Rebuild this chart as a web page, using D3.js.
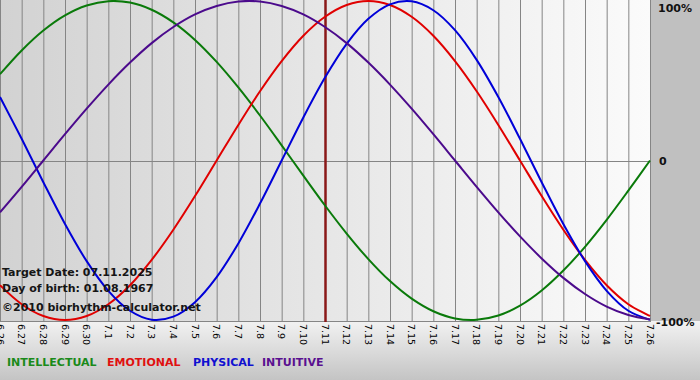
<!DOCTYPE html>
<html><head><meta charset="utf-8">
<script src="https://cdnjs.cloudflare.com/ajax/libs/d3/7.8.5/d3.min.js"></script>
<style>html,body{margin:0;padding:0;background:#c0c0c0;}svg{display:block;}</style>
</head><body><svg id="c" width="700" height="380"></svg>
<script>
const days = ["6.26","6.27","6.28","6.29","6.30","7.1","7.2","7.3","7.4","7.5","7.6","7.7","7.8","7.9","7.10","7.11","7.12","7.13","7.14","7.15","7.16","7.17","7.18","7.19","7.20","7.21","7.22","7.23","7.24","7.25","7.26"];
const targetDay = "7.11";
const intellectual = [0.541,0.690,0.815,0.910,0.972,0.999,0.990,0.945,0.866,0.756,0.618,0.458,0.282,0.095,-0.095,-0.282,-0.458,-0.618,-0.756,-0.866,-0.945,-0.990,-0.999,-0.972,-0.910,-0.815,-0.690,-0.541,-0.372,-0.189,0.000];
const emotional = [-0.782,-0.901,-0.975,-1.000,-0.975,-0.901,-0.782,-0.623,-0.434,-0.223,0.000,0.223,0.434,0.623,0.782,0.901,0.975,1.000,0.975,0.901,0.782,0.623,0.434,0.223,0.000,-0.223,-0.434,-0.623,-0.782,-0.901,-0.975];
const physical = [0.398,0.136,-0.136,-0.398,-0.631,-0.817,-0.942,-0.998,-0.979,-0.888,-0.731,-0.520,-0.270,0.000,0.270,0.520,0.731,0.888,0.979,0.998,0.942,0.817,0.631,0.398,0.136,-0.136,-0.398,-0.631,-0.817,-0.942,-0.998];
const intuitive = [-0.325,-0.165,0.000,0.165,0.325,0.476,0.614,0.736,0.837,0.916,0.969,0.997,0.997,0.969,0.916,0.837,0.736,0.614,0.476,0.325,0.165,0.000,-0.165,-0.325,-0.476,-0.614,-0.736,-0.837,-0.916,-0.969,-0.997];
const seriesNames = ["INTELLECTUAL","EMOTIONAL","PHYSICAL","INTUITIVE"];
const seriesColors = ["#0a7a0a","#e00000","#0000d8","#4b0a8c"];
const legendColors = ["#1a8a1a","#e01010","#1010d0","#5a1090"];
const yTicks = [1,0,-1];
const yTickLabels = ["100%","0","-100%"];
const infoLines = ["Target Date: 07.11.2025","Day of birth: 01.08.1967"];
const copyright = "\u00a92010 biorhythm-calculator.net";

const svg = d3.select("#c");
const W = 700, H = 380, PL = 0, PR = 650, PT = 1, PB = 320;
const defs = svg.append("defs");
const g1 = defs.append("linearGradient").attr("id","plotbg").attr("x1","0").attr("x2","1").attr("y1","0").attr("y2","0");
g1.append("stop").attr("offset","0").attr("stop-color","#d2d2d2");
g1.append("stop").attr("offset","1").attr("stop-color","#fbfbfb");
const g2 = defs.append("linearGradient").attr("id","botbg").attr("x1","0").attr("x2","0").attr("y1","0").attr("y2","1");
g2.append("stop").attr("offset","0").attr("stop-color","#f2f2f2");
g2.append("stop").attr("offset","1").attr("stop-color","#c4c4c4");

svg.append("rect").attr("width",W).attr("height",H).attr("fill","#c0c0c0");
svg.append("rect").attr("x",0).attr("y",321).attr("width",W).attr("height",H-321).attr("fill","url(#botbg)");
svg.append("rect").attr("x",PL).attr("y",0).attr("width",PR-PL).attr("height",321).attr("fill","url(#plotbg)");

const x = d3.scalePoint().domain(days).range([PL,PR]);
const y = d3.scaleLinear().domain([-1,1]).range([PB,PT]);

svg.append("g").selectAll("line").data(days).join("line")
  .attr("x1",d=>x(d)+0.5).attr("x2",d=>x(d)+0.5).attr("y1",0).attr("y2",322)
  .attr("stroke","#858585").attr("stroke-width",1);
svg.append("line").attr("x1",PL).attr("x2",PR).attr("y1",Math.round(y(0))+0.5).attr("y2",Math.round(y(0))+0.5).attr("stroke","#858585");
svg.append("line").attr("x1",PL).attr("x2",PR+1).attr("y1",321.5).attr("y2",321.5).attr("stroke","#858585");

svg.append("line").attr("x1",x(targetDay)+0.5).attr("x2",x(targetDay)+0.5).attr("y1",0).attr("y2",322)
  .attr("stroke","#8a1818").attr("stroke-width",2.5);

const data = [intellectual, emotional, physical, intuitive];
const line = d3.line().x((d,i)=>x(days[i])).y(d=>y(d)).curve(d3.curveCatmullRom.alpha(0.5));
svg.append("g").selectAll("path").data(data).join("path")
  .attr("d",line).attr("fill","none")
  .attr("stroke",(d,i)=>seriesColors[i]).attr("stroke-width",2);

svg.append("g").selectAll("text").data(days).join("text")
  .attr("transform",d=>`translate(${x(d)-3.5},324) rotate(90)`)
  .attr("font-family","DejaVu Sans, Verdana, sans-serif").attr("font-size","9.5px")
  .attr("fill","#000").text(d=>d);

svg.append("g").selectAll("text").data(yTicks).join("text")
  .attr("x",(d,i)=>i===1?659:(i===0?658:656)).attr("y",(d,i)=>[12,165,326][i])
  .attr("font-family","DejaVu Sans, Verdana, sans-serif").attr("font-weight","bold").attr("font-size","11px")
  .attr("fill","#111").text((d,i)=>yTickLabels[i]);

svg.append("g").selectAll("text").data(infoLines).join("text")
  .attr("x",2).attr("y",(d,i)=>276+i*16)
  .attr("font-family","DejaVu Sans, Verdana, sans-serif").attr("font-weight","bold").attr("font-size","11px")
  .attr("fill","#151515").text(d=>d);
svg.append("text").attr("x",2).attr("y",311)
  .attr("font-family","DejaVu Sans, Verdana, sans-serif").attr("font-weight","bold").attr("font-size","11px")
  .attr("fill","#151515").text(copyright);

const legX = [7,107,193,262];
svg.append("g").selectAll("text").data(seriesNames).join("text")
  .attr("x",(d,i)=>legX[i]).attr("y",366)
  .attr("font-family","DejaVu Sans, Verdana, sans-serif").attr("font-weight","bold").attr("font-size","11px")
  .attr("fill",(d,i)=>legendColors[i]).text(d=>d);
</script></body></html>
